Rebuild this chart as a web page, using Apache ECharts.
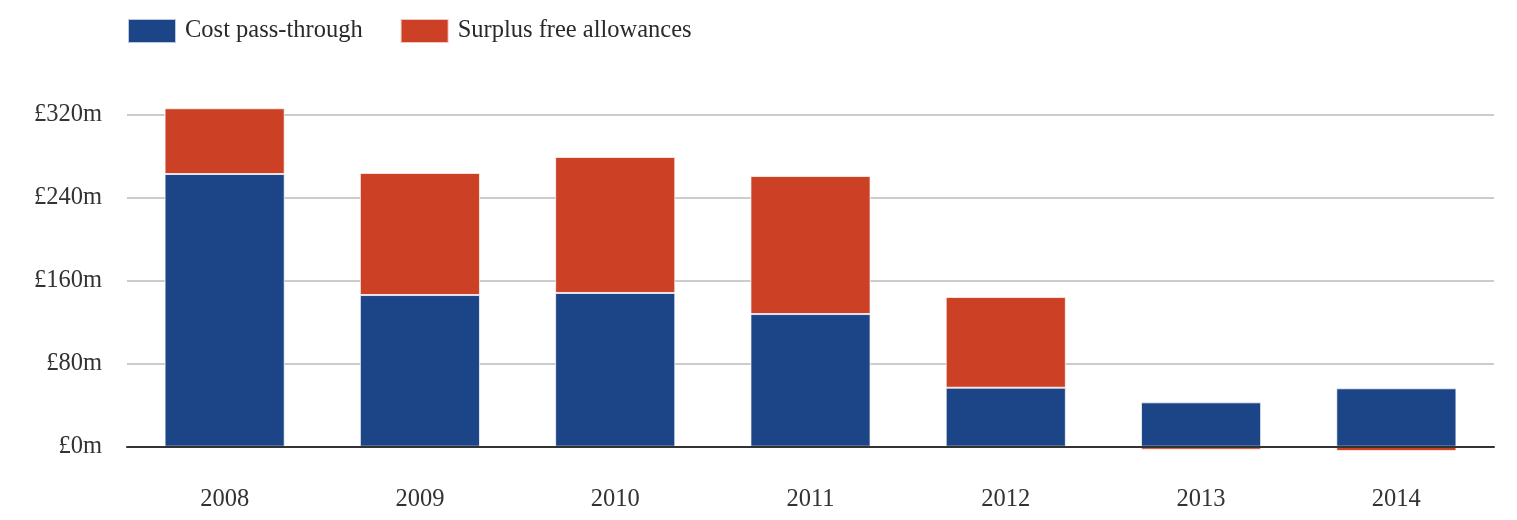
<!DOCTYPE html>
<html>
<head>
<meta charset="utf-8">
<script src="https://cdn.jsdelivr.net/npm/echarts@6/dist/echarts.min.js"></script>
<style>
html,body{margin:0;padding:0;background:#fff;}
#chart{width:1517px;height:520px;}
</style>
</head>
<body>
<div id="chart"></div>
<script>
const categories = ['2008','2009','2010','2011','2012','2013','2014'];
const costPassThrough = [262.5, 146, 148, 127.7, 56.8, 42.7, 56.2];
const surplusFreeAllowances = [63.3, 117.5, 130.9, 132.9, 87.3, -2.9, -4.1];
const yTicks = [0, 80, 160, 240, 320];

const FONT = '"Liberation Serif","Times New Roman",serif';
const chart = echarts.init(document.getElementById('chart'), null, {renderer: 'canvas'});
chart.setOption({
  animation: false,
  backgroundColor: '#fff',
  textStyle: {fontFamily: FONT},
  legend: {
    left: 127,
    top: 18,
    padding: 0,
    itemWidth: 48,
    itemHeight: 24,
    itemGap: 37,
    icon: 'rect',
    textStyle: {fontFamily: FONT, fontSize: 24.5, color: '#2a2a2a', padding: [2, 0, 0, 4]},
    data: ['Cost pass-through', 'Surplus free allowances']
  },
  grid: {left: 127, right: 23, top: 114.3, bottom: 73.3, containLabel: false},
  xAxis: {
    type: 'category',
    data: categories,
    z: 5,
    axisLine: {show: true, lineStyle: {color: '#333', width: 2}},
    axisTick: {show: false},
    axisLabel: {fontFamily: FONT, fontSize: 24.5, color: '#333', margin: 40}
  },
  yAxis: {
    type: 'value',
    min: yTicks[0],
    max: yTicks[yTicks.length - 1],
    interval: 80,
    axisLine: {show: false},
    axisTick: {show: false},
    splitLine: {lineStyle: {color: '#ccc', width: 2}},
    axisLabel: {
      fontFamily: FONT, fontSize: 24.5, color: '#333', margin: 25,
      padding: [9, 0, 0, 0],
      formatter: v => '£' + v + 'm'
    }
  },
  series: [
    {
      name: 'Cost pass-through',
      type: 'bar',
      stack: 'total',
      barWidth: '61.5%',
      clip: false,
      data: costPassThrough,
      itemStyle: {color: '#1c4587', borderColor: 'rgba(255,255,255,0.7)', borderWidth: 1}
    },
    {
      name: 'Surplus free allowances',
      type: 'bar',
      stack: 'total',
      barWidth: '61.5%',
      clip: false,
      data: surplusFreeAllowances,
      itemStyle: {color: '#cc4125', borderColor: 'rgba(255,255,255,0.7)', borderWidth: 1}
    }
  ]
});
</script>
</body>
</html>
